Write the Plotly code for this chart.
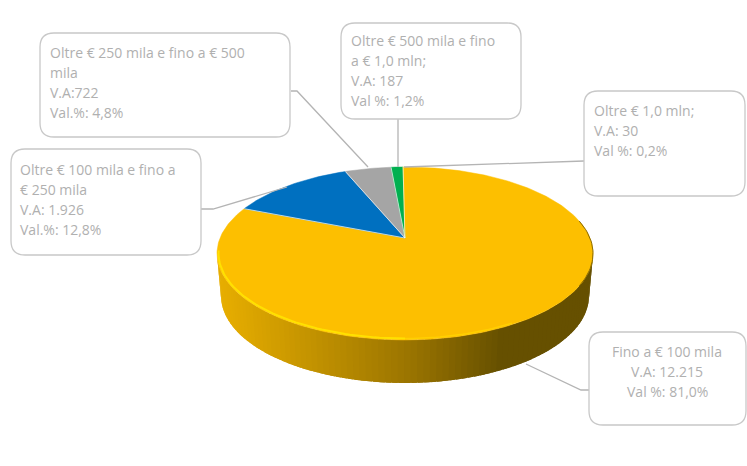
"""
Torta 3D delle fasce di importo, disegnata con Scatter per avere la prospettiva.
"""
import numpy as np
import plotly.graph_objects as go

# dati
fasce = ["Fino a € 100 mila", "Oltre € 100 mila e fino a € 250 mila", "Oltre € 250 mila e fino a € 500 mila",
         "Oltre € 500 mila e fino a € 1,0 mln", "Oltre € 1,0 mln"]
valori = [12215, 1926, 722, 187, 30]
colori = ["#FDBF00", "#0070C0", "#A5A5A5", "#00B050", "#FDBF00"]

testo_fino = ["Fino a € 100 mila", "V.A: 12.215", "Val %: 81,0%"]
testo_100 = ["Oltre € 100 mila e fino a", "€ 250 mila", "V.A: 1.926", "Val.%: 12,8%"]
testo_250 = ["Oltre € 250 mila e fino a € 500", "mila", "V.A:722", "Val.%: 4,8%"]
testo_500 = ["Oltre € 500 mila e fino", "a € 1,0 mln;", "V.A: 187", "Val %: 1,2%"]
testo_1m = ["Oltre € 1,0 mln;", "V.A: 30", "Val %: 0,2%"]

# geometria della torta (unità = pixel dell'asse)
CX, CY, A, B = 405, 253.5, 188, 86.5
APEX_Y = 238
CX2, CY2, A2, B2 = 405, 296, 184, 87

GRIGIO_TESTO = "#b0b0b0"
GRIGIO_BORDO = "#c8c8c8"


def punto_bordo(theta):
    """Raggio dall'apice della torta fino al bordo dell'ellisse."""
    py = (CY - APEX_Y) / B
    dx, dy = np.sin(theta), np.cos(theta)
    pd = py * dy
    s = -pd + np.sqrt(pd ** 2 + 1 - py ** 2)
    return CX + A * s * dx, CY - B * (py + s * dy)


def colore_parete(x):
    r = np.interp(x, [220, 405, 497], [0xE6, 0x9A, 0x66])
    g = np.interp(x, [220, 405, 497], [0xAD, 0x74, 0x50])
    return f"rgb({r:.0f},{g:.0f},0)"


fig = go.Figure()

# parete laterale: strisce sovrapposte da destra a sinistra per evitare le righe
t = np.radians(np.linspace(90, 270, 91))
for t0, t1 in zip(t[:-1], t[1:]):
    tt = np.linspace(t0 - 0.03, t1, 4)
    xs = np.r_[CX + A * np.sin(tt), CX2 + A2 * np.sin(tt[::-1])]
    ys = np.r_[CY - B * np.cos(tt), CY2 - B2 * np.cos(tt[::-1])]
    col = colore_parete(CX + A * np.sin((t0 + t1) / 2))
    fig.add_trace(go.Scatter(x=xs, y=ys, mode="lines", fill="toself", fillcolor=col,
                             line=dict(width=0), hoverinfo="skip"))

# spicchi superiori, in senso orario dalle ore 12
quote = np.array(valori) / sum(valori)
bordi = np.r_[0, np.cumsum(quote)] * 2 * np.pi
for i in range(len(valori)):
    theta = np.linspace(bordi[i], bordi[i + 1], max(3, int(quote[i] * 360)))
    xs, ys = punto_bordo(theta)
    fig.add_trace(go.Scatter(x=np.r_[CX, xs, CX], y=np.r_[APEX_Y, ys, APEX_Y], mode="lines", fill="toself",
                             fillcolor=colori[i], line=dict(color=colori[i], width=0.5),
                             name=fasce[i], hoverinfo="name"))

# separatori chiari tra gli spicchi
for b in bordi[1:-1]:
    xb, yb = punto_bordo(b)
    fig.add_trace(go.Scatter(x=[CX, xb], y=[APEX_Y, yb], mode="lines", hoverinfo="skip",
                             line=dict(color="rgba(255,255,255,0.65)", width=1)))

# smusso: luce in basso a sinistra, ombra a destra
t_luce = np.radians(np.linspace(180, 272, 60))
fig.add_trace(go.Scatter(x=CX + (A - 1.5) * np.sin(t_luce), y=CY - (B - 1.5) * np.cos(t_luce), mode="lines",
                         line=dict(color="#FFE100", width=2), hoverinfo="skip"))
t_luce2 = np.radians(np.linspace(145, 180, 30))
fig.add_trace(go.Scatter(x=CX + (A - 1.5) * np.sin(t_luce2), y=CY - (B - 1.5) * np.cos(t_luce2), mode="lines",
                         line=dict(color="#FFD000", width=1.5), hoverinfo="skip"))
t_ombra = np.radians(np.linspace(68, 112, 30))
fig.add_trace(go.Scatter(x=CX + A * np.sin(t_ombra), y=CY - B * np.cos(t_ombra), mode="lines",
                         line=dict(color="#8a6a00", width=1), hoverinfo="skip"))


def riquadro(x0, y0, x1, y1, r=14):
    path = (f"M {x0 + r} {y0} L {x1 - r} {y0} Q {x1} {y0} {x1} {y0 + r} L {x1} {y1 - r} Q {x1} {y1} {x1 - r} {y1} "
            f"L {x0 + r} {y1} Q {x0} {y1} {x0} {y1 - r} L {x0} {y0 + r} Q {x0} {y0} {x0 + r} {y0} Z")
    fig.add_shape(type="path", path=path, xref="x", yref="y", fillcolor="white",
                  line=dict(color=GRIGIO_BORDO, width=1.3))


def testo(righe, x, y, allinea="left"):
    for i, riga in enumerate(righe):
        fig.add_annotation(x=x, y=y + i * 20, text=riga, xref="x", yref="y", showarrow=False,
                           xanchor=allinea, yanchor="middle", font=dict(color=GRIGIO_TESTO, size=14))


def linea_guida(xs, ys):
    fig.add_trace(go.Scatter(x=xs, y=ys, mode="lines", hoverinfo="skip",
                             line=dict(color="#b4b4b4", width=1.3)))


linea_guida([291, 297, 368], [91, 91, 167])
linea_guida([398, 398], [119, 167])
linea_guida([584, 404], [161, 167])
linea_guida([201, 213, 287], [209, 209, 187])
linea_guida([589, 581, 526], [390, 390, 364])

riquadro(40, 33, 290, 137)
riquadro(11, 149, 201, 255)
riquadro(341, 23, 521, 119)
riquadro(584, 91, 745, 196)
riquadro(589, 332, 746, 425)

testo(testo_250, 48, 52)
testo(testo_100, 18, 169)
testo(testo_500, 349, 40)
testo(testo_1m, 592, 110)
testo(testo_fino, 667, 351, "center")

fig.update_layout(
    width=747,
    height=466,
    margin=dict(l=0, r=0, t=0, b=0),
    showlegend=False,
    plot_bgcolor="white",
    paper_bgcolor="white",
    font=dict(family="Open Sans"),
)
fig.update_xaxes(range=[0, 747], visible=False)
fig.update_yaxes(range=[466, 0], visible=False)

fig.write_html("out.html", config=dict(displayModeBar=False), post_script="document.body.style.margin='0';")
